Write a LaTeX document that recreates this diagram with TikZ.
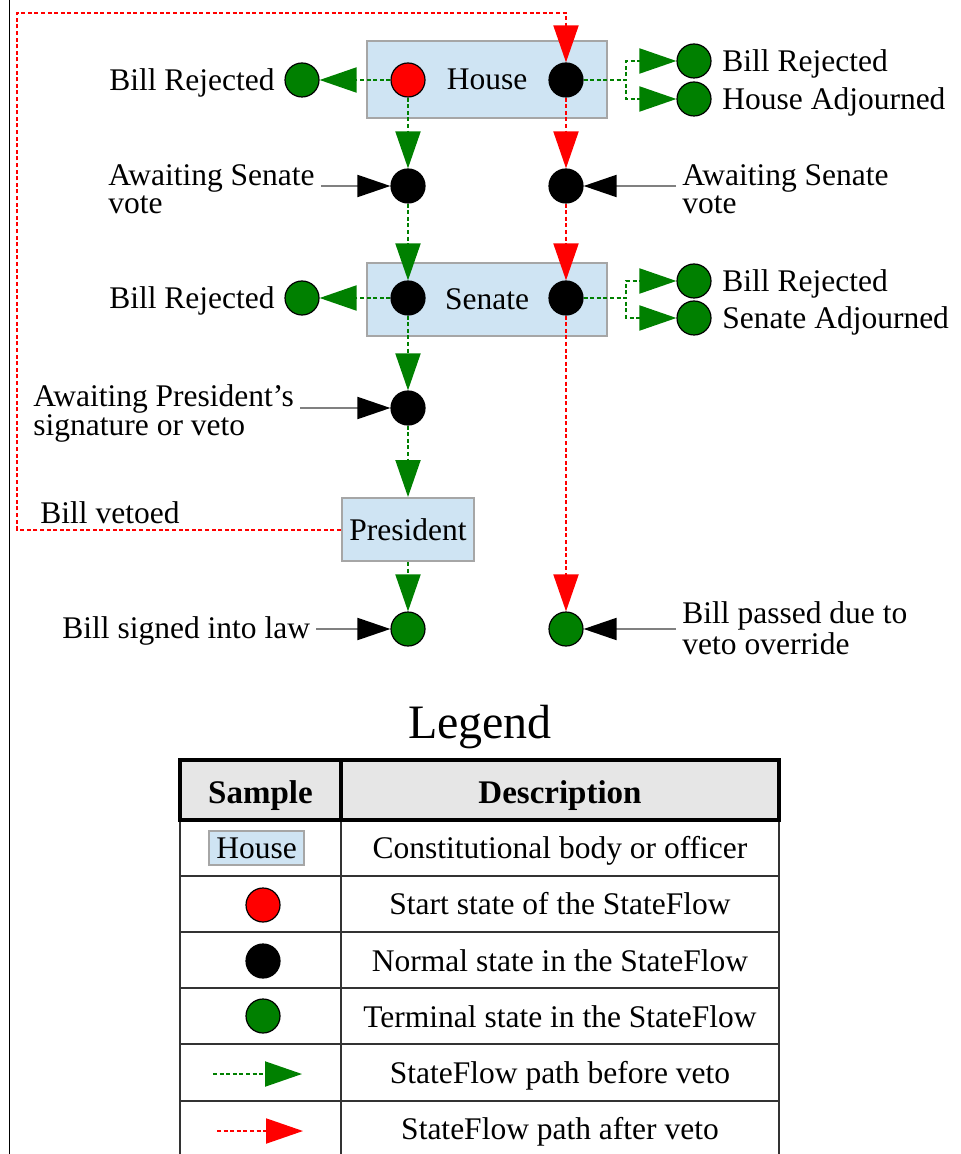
\documentclass[tikz,border=0pt]{standalone}
\usepackage{fontspec}
\setmainfont{Liberation Serif}
\usetikzlibrary{arrows.meta,positioning}
\definecolor{flowgreen}{HTML}{008000}
\definecolor{flowred}{HTML}{FF0000}
\definecolor{bodyblue}{HTML}{CFE4F3}
\definecolor{bodyline}{HTML}{A6A6A6}
\definecolor{headgray}{HTML}{E6E6E6}
\begin{document}
\begin{tikzpicture}[x=0.5pt,y=-0.5pt,
    txt/.style={font=\fontsize{15.75}{14}\selectfont, inner xsep=3pt, inner ysep=0pt, align=left},
    body/.style={txt, draw=bodyline, fill=bodyblue, line width=1pt, inner sep=0pt},
    state/.style={circle, draw=black, line width=0.6pt, minimum size=17pt, inner sep=0pt},
    start/.style={state, fill=flowred},
    normal/.style={state, fill=black},
    final/.style={state, fill=flowgreen},
    before/.style={draw=flowgreen, line width=1pt, dash pattern=on 2pt off 1.3pt, -{Triangle[length=18.5pt,width=12.5pt,color=flowgreen]}},
    after/.style={before, draw=flowred, -{Triangle[length=18.5pt,width=12.5pt,color=flowred]}},
    note/.style={draw=gray, line width=1pt, -{Triangle[length=16.5pt,width=11pt,color=black]}},
    rowline/.style={draw=black!80, line width=0.9pt}]
    \useasboundingbox (0,0) rectangle (960,1154);
    \draw [line width=0.8pt] (9.5,0) -- (9.5,1154);
    \node [body, minimum width=120pt, minimum height=38.5pt] (house) at (487,79.5) {House};
    \node [body, minimum width=120pt, minimum height=36.5pt] (senate) at (487,299.5) {Senate};
    \node [body, minimum width=66pt, minimum height=31.5pt] (pres) at (408,529.5) {President};
    \node [start] (hstart) at (408,80) {};
    \node [normal] (hvote) at (566,80) {};
    \node [final] (hrej1) at (302,80) {};
    \node [final] (hrej2) at (694,61) {};
    \node [final] (hadj) at (694,99) {};
    \node [normal] (sv1) at (408,186) {};
    \node [normal] (sv2) at (566,186) {};
    \node [normal] (sen1) at (408,298) {};
    \node [normal] (sen2) at (566,298) {};
    \node [final] (srej1) at (302,298) {};
    \node [final] (srej2) at (694,281) {};
    \node [final] (sadj) at (694,318) {};
    \node [normal] (sign) at (408,408) {};
    \node [final] (law) at (408,629) {};
    \node [final] (override) at (566,629) {};
    \node [txt, anchor=base east] (hrejtxt1) at (281,91) {Bill Rejected};
    \node [txt, anchor=base west] (hrejtxt2) at (716,72) {Bill Rejected};
    \node [txt, anchor=base west] (hadjtxt) at (716,110) {House Adjourned};
    \node [txt, anchor=base west] (svtxt1) at (102,214) {Awaiting Senate\\vote};
    \node [txt, anchor=base west] (svtxt2) at (676,214) {Awaiting Senate\\vote};
    \node [txt, anchor=base east] (srejtxt1) at (281,309) {Bill Rejected};
    \node [txt, anchor=base west] (srejtxt2) at (716,292) {Bill Rejected};
    \node [txt, anchor=base west] (sadjtxt) at (716,329) {Senate Adjourned};
    \node [txt, anchor=base west] (signtxt) at (27,435) {Awaiting President’s\\signature or veto};
    \node [txt, anchor=base west] (vetotxt) at (34,523) {Bill vetoed};
    \node [txt, anchor=base west] (lawtxt) at (56,638) {Bill signed into law};
    \node [txt, anchor=base west] (overtxt) at (676,654) {Bill passed due to\\veto override};
    \coordinate (hsplit) at (626,80);
    \coordinate (ssplit) at (626,298);
    \coordinate (loop) at (17,13);
    \draw [before] (hstart) -- (hrej1);
    \draw [before] (hvote) -- (hsplit) |- (hrej2);
    \draw [before] (hvote) -- (hsplit) |- (hadj);
    \draw [before] (hstart) -- (sv1);
    \draw [before] (sv1) -- (sen1);
    \draw [before] (sen1) -- (srej1);
    \draw [before] (sen2) -- (ssplit) |- (srej2);
    \draw [before] (sen2) -- (ssplit) |- (sadj);
    \draw [before] (sen1) -- (sign);
    \draw [before] (sign) -- (pres);
    \draw [before] (pres) -- (law);
    \draw [after] (pres) -| (loop) -| (hvote);
    \draw [after] (hvote) -- (sv2);
    \draw [after] (sv2) -- (sen2);
    \draw [after] (sen2) -- (override);
    \draw [note] (svtxt1.east |- sv1) -- (sv1);
    \draw [note] (svtxt2.west |- sv2) -- (sv2);
    \draw [note] (signtxt.east |- sign) -- (sign);
    \draw [note] (lawtxt.east |- law) -- (law);
    \draw [note] (overtxt.west |- override) -- (override);
    \node [font=\fontsize{24}{24}\selectfont, anchor=base] (legend) at (480,738) {Legend};
    \draw [rowline] (180,820) -- (180,1154) (341,820) -- (341,1154) (779,820) -- (779,1154);
    \foreach \y in {876,932,988,1044,1101}
        \draw [rowline] (180,\y) -- (779,\y);
    \draw [line width=2pt, fill=headgray] (180,760) rectangle (779,820);
    \draw [line width=2pt] (341,760) -- (341,820);
    \node [txt, font=\fontsize{16.5}{16}\selectfont\bfseries, anchor=base] (colsample) at (260.5,803) {Sample};
    \node [txt, font=\fontsize{16.5}{16}\selectfont\bfseries, anchor=base] (coldesc) at (560,803) {Description};
    \node [body, minimum width=47.5pt, minimum height=17pt] (keybody) at (256.5,848) {House};
    \node [start] (keystart) at (263,905) {};
    \node [normal] (keynormal) at (263,961) {};
    \node [final] (keyfinal) at (263,1016) {};
    \coordinate (keyg0) at (213,1074);
    \coordinate (keyg1) at (302,1074);
    \coordinate (keyr0) at (217,1131);
    \coordinate (keyr1) at (303,1131);
    \draw [before] (keyg0) -- (keyg1);
    \draw [after] (keyr0) -- (keyr1);
    \node [txt, anchor=base] (descbody) at (560,858) {Constitutional body or officer};
    \node [txt, anchor=base] (descstart) at (560,914) {Start state of the StateFlow};
    \node [txt, anchor=base] (descnormal) at (560,971) {Normal state in the StateFlow};
    \node [txt, anchor=base] (descfinal) at (560,1027) {Terminal state in the StateFlow};
    \node [txt, anchor=base] (descbefore) at (560,1083) {StateFlow path before veto};
    \node [txt, anchor=base] (descafter) at (560,1139) {StateFlow path after veto};
\end{tikzpicture}
\end{document}
